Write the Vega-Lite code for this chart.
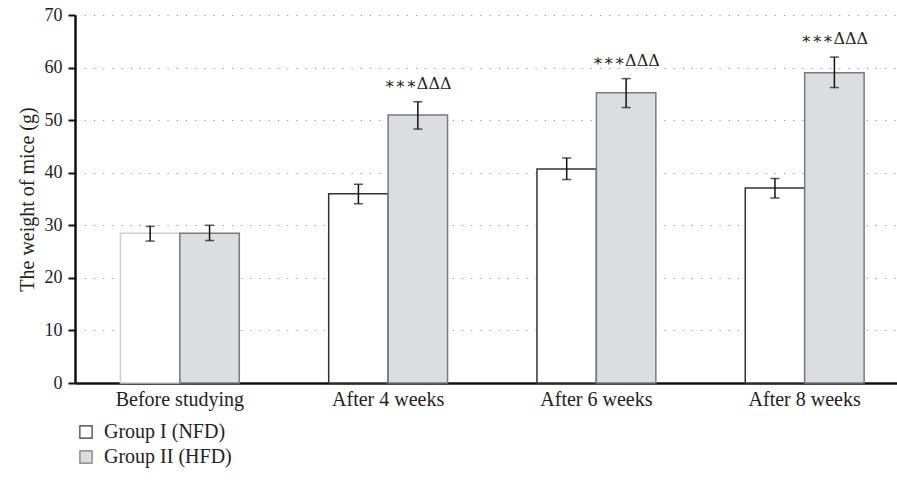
{
  "$schema": "https://vega.github.io/schema/vega-lite/v6.json",
  "autosize": "none",
  "width": 822,
  "height": 368,
  "padding": {"left": 75, "top": 15, "right": 0, "bottom": 100},
  "background": "white",
  "config": {
    "font": "Liberation Serif",
    "view": {"stroke": null},
    "axis": {"labelFont": "Liberation Serif", "titleFont": "Liberation Serif", "labelColor": "#222", "titleColor": "#222"},
    "legend": {"labelFont": "Liberation Serif"}
  },
  "data": {
    "values": [
      {"time": "Before studying", "group": "Group I (NFD)", "value": 28.5, "lo": 27.0, "hi": 29.8, "label": ""},
      {"time": "Before studying", "group": "Group II (HFD)", "value": 28.5, "lo": 27.1, "hi": 30.0, "label": ""},
      {"time": "After 4 weeks", "group": "Group I (NFD)", "value": 36.0, "lo": 34.1, "hi": 37.8, "label": ""},
      {"time": "After 4 weeks", "group": "Group II (HFD)", "value": 51.0, "lo": 48.3, "hi": 53.5, "label": "∗∗∗ΔΔΔ"},
      {"time": "After 6 weeks", "group": "Group I (NFD)", "value": 40.7, "lo": 38.7, "hi": 42.8, "label": ""},
      {"time": "After 6 weeks", "group": "Group II (HFD)", "value": 55.2, "lo": 52.4, "hi": 57.9, "label": "∗∗∗ΔΔΔ"},
      {"time": "After 8 weeks", "group": "Group I (NFD)", "value": 37.1, "lo": 35.2, "hi": 38.9, "label": ""},
      {"time": "After 8 weeks", "group": "Group II (HFD)", "value": 59.0, "lo": 56.2, "hi": 62.0, "label": "∗∗∗ΔΔΔ"}
    ]
  },
  "encoding": {
    "x": {
      "field": "time", "type": "nominal",
      "sort": ["Before studying", "After 4 weeks", "After 6 weeks", "After 8 weeks"],
      "scale": {"paddingInner": 0.4293, "paddingOuter": 0.188, "align": 0.58},
      "axis": {"title": null, "labelAngle": 0, "ticks": false, "labelFontSize": 20, "labelPadding": 6, "domainColor": "#111", "domainWidth": 2.5, "grid": false}
    },
    "xOffset": {"field": "group", "type": "nominal", "scale": {"paddingInner": 0, "paddingOuter": 0}}
  },
  "layer": [
    {
      "mark": {"type": "bar", "strokeWidth": 1.5},
      "encoding": {
        "y": {
          "field": "value", "type": "quantitative",
          "scale": {"domain": [0, 70], "nice": false},
          "axis": {
            "title": "The weight of mice (g)", "titleFontSize": 20, "titleFontWeight": "normal", "titlePadding": 7,
            "values": [0, 10, 20, 30, 40, 50, 60, 70], "labelFontSize": 18, "labelPadding": 6,
            "tickSize": 7, "tickColor": "#111", "tickWidth": 2, "domainColor": "#111", "domainWidth": 2.5,
            "grid": true, "gridColor": "#999", "gridDash": [1.2, 8], "gridWidth": 1.2
          }
        },
        "fill": {
          "field": "group", "type": "nominal",
          "scale": {"domain": ["Group I (NFD)", "Group II (HFD)"], "range": ["#ffffff", "#dcdde0"]},
          "legend": {
            "title": null, "orient": "none", "legendX": 1, "legendY": 407, "direction": "vertical",
            "symbolType": "square", "symbolSize": 150, "symbolStrokeWidth": 1.2,
            "labelFontSize": 20, "labelColor": "#222", "rowPadding": 5, "labelOffset": 8
          }
        },
        "stroke": {
          "condition": {"test": "datum.time === 'Before studying' && datum.group === 'Group I (NFD)'", "value": "#d0d0d0"},
          "field": "group", "type": "nominal",
          "scale": {"domain": ["Group I (NFD)", "Group II (HFD)"], "range": ["#333333", "#7a7a7a"]},
          "legend": null
        }
      }
    },
    {
      "mark": {"type": "rule", "color": "#111", "strokeWidth": 1.5},
      "encoding": {
        "y": {"field": "lo", "type": "quantitative"},
        "y2": {"field": "hi"}
      }
    },
    {
      "mark": {"type": "tick", "color": "#111", "size": 9, "thickness": 1.5},
      "encoding": {"y": {"field": "lo", "type": "quantitative"}}
    },
    {
      "mark": {"type": "tick", "color": "#111", "size": 9, "thickness": 1.5},
      "encoding": {"y": {"field": "hi", "type": "quantitative"}}
    },
    {
      "mark": {"type": "text", "fontSize": 16, "dy": -18, "color": "#222", "font": "DejaVu Serif"},
      "encoding": {
        "y": {"field": "hi", "type": "quantitative"},
        "text": {"field": "label"}
      }
    }
  ]
}
